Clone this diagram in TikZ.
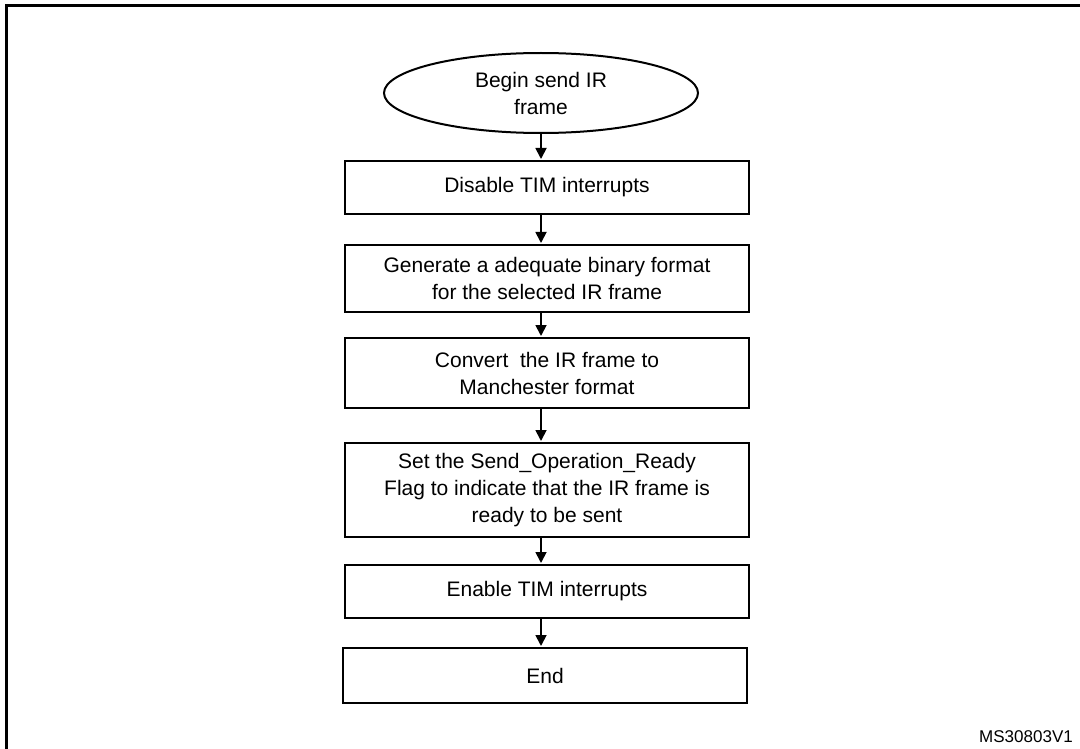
\documentclass[tikz,border=0pt]{standalone}
\usepackage{fontspec}
\setmainfont{Liberation Sans}
\usetikzlibrary{arrows.meta,shapes.geometric}
\begin{document}
\begin{tikzpicture}[x=1pt,y=-1pt,
  every node/.style={font=\fontsize{21pt}{27pt}\selectfont, inner sep=0pt},
  stepbox/.style={draw, line width=2pt, minimum width=404pt, align=center},
  startshape/.style={draw, line width=2pt, ellipse, minimum width=314pt, minimum height=80pt, align=center},
  flow/.style={line width=1.8pt, -{Triangle[length=11pt,width=11pt]}, shorten >=1pt}
]
\useasboundingbox (0,0) rectangle (1080,749);
% page frame (top and left edges)
\draw[line width=3pt] (6,749) -- (6,6) -- (1080,6);

% flow chart
\node[startshape] (start) at (541,93) {Begin send IR\\frame};
\node[stepbox, minimum height=53pt] (s1) at (547,187.5) {Disable TIM interrupts};
\node[stepbox, minimum height=67pt] (s2) at (547,278.5) {Generate a adequate binary format\\for the selected IR frame};
\node[stepbox, minimum height=70pt] (s3) at (547,373) {Convert\ \ the IR frame to\\Manchester format};
\node[stepbox, minimum height=94pt] (s4) at (547,490) {Set the Send\_Operation\_Ready\\Flag to indicate that the IR frame is\\ready to be sent};
\node[stepbox, minimum height=53pt] (s5) at (547,591.5) {Enable TIM interrupts};
\node[stepbox, minimum height=55pt] (s6) at (545,675.5) {End};

\draw[flow] (start.south) -- (s1.north -| start.south);
\draw[flow] (s1.south -| start.south) -- (s2.north -| start.south);
\draw[flow] (s2.south -| start.south) -- (s3.north -| start.south);
\draw[flow] (s3.south -| start.south) -- (s4.north -| start.south);
\draw[flow] (s4.south -| start.south) -- (s5.north -| start.south);
\draw[flow] (s5.south -| start.south) -- (s6.north -| start.south);

\node[anchor=base east, font=\fontsize{17pt}{20pt}\selectfont] (ref) at (1073,742) {MS30803V1};
\end{tikzpicture}
\end{document}
